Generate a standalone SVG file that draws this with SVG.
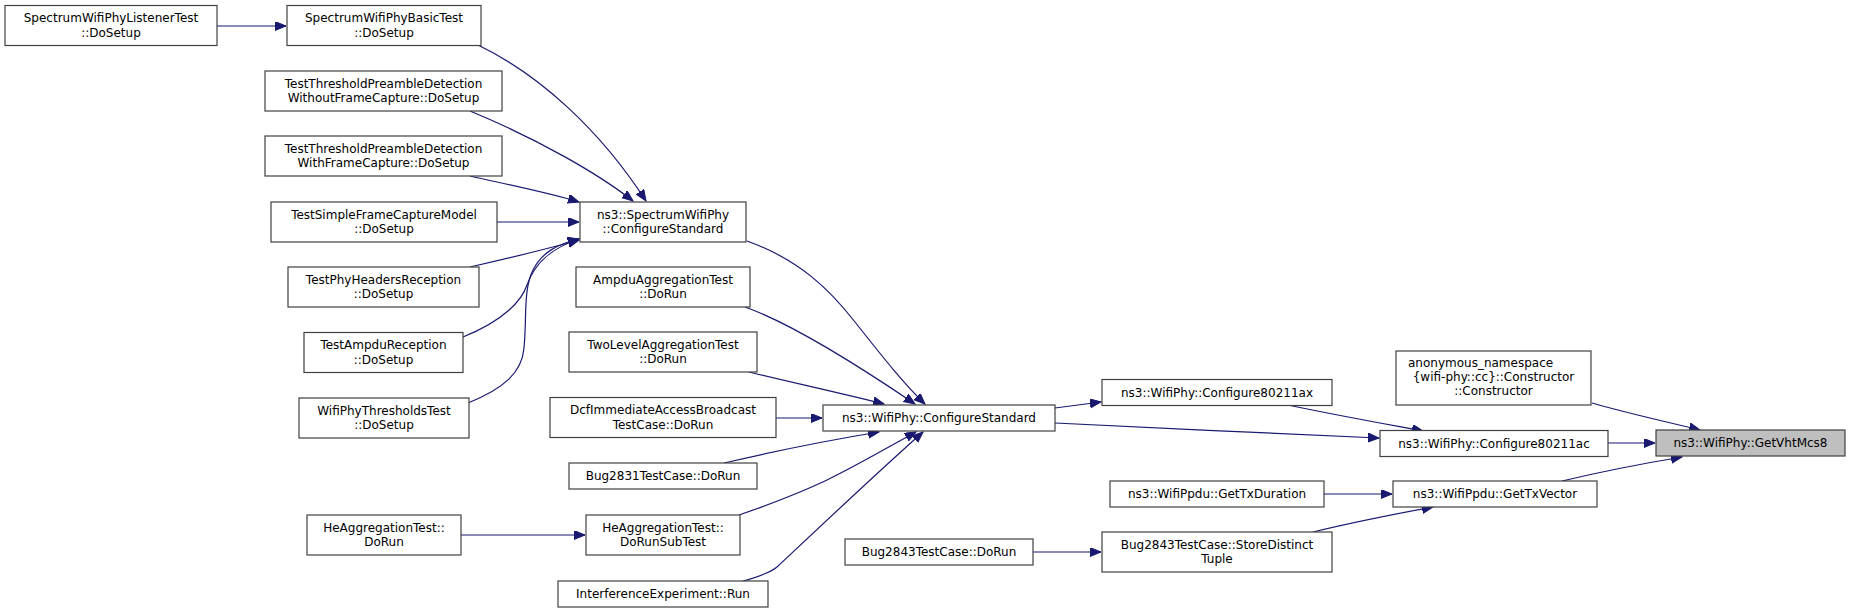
<svg xmlns="http://www.w3.org/2000/svg" width="1851" height="613" viewBox="0 0 1851 613">
<style>
.n rect{fill:#ffffff;stroke:#404040;stroke-width:1.2}
.h rect{fill:#bfbfbf}
text{font-family:"DejaVu Sans","Noto Sans",sans-serif;font-size:12px;fill:#000;text-anchor:middle}
.e path{fill:none;stroke:#191970;stroke-width:1.2}
</style>
<defs>
<marker id="a" markerUnits="userSpaceOnUse" markerWidth="12" markerHeight="10" refX="11" refY="4.5" orient="auto">
<path d="M0,0 L11,4.5 L0,9 z" fill="#191970" stroke="#191970" stroke-width="1"/>
</marker>
</defs>
<rect width="1851" height="613" fill="#ffffff"/>
<g class="e" marker-end="url(#a)">
<path d="M217,26 L286,26" marker-end="url(#a)"/>
<path d="M478,45 C540,75 600,130 646,201" marker-end="url(#a)"/>
<path d="M470,111 C540,140 600,175 633,201" marker-end="url(#a)"/>
<path d="M470,176 C510,185 550,193 579,202" marker-end="url(#a)"/>
<path d="M497,222 L579,222" marker-end="url(#a)"/>
<path d="M470,267 C510,258 550,248 579,240" marker-end="url(#a)"/>
<path d="M463,337 C505,320 522,300 527,285 C535,262 552,248 579,239" marker-end="url(#a)"/>
<path d="M468,403 C505,388 522,372 524,348 C527,318 523,290 533,270 C542,252 558,244 579,239" marker-end="url(#a)"/>
<path d="M747,241 C800,260 830,290 855,322 C885,360 905,385 925,404" marker-end="url(#a)"/>
<path d="M745,307 C790,323 850,360 915,404" marker-end="url(#a)"/>
<path d="M749,372 C790,382 840,393 884,404" marker-end="url(#a)"/>
<path d="M776,418 L822,418" marker-end="url(#a)"/>
<path d="M724,463 C780,450 830,440 879,432" marker-end="url(#a)"/>
<path d="M739,515 C765,506 795,495 825,481 C860,464 890,446 916,432" marker-end="url(#a)"/>
<path d="M743,581 C757,577 770,573 777,567 C825,522 880,470 923,432" marker-end="url(#a)"/>
<path d="M461,535 L585,535" marker-end="url(#a)"/>
<path d="M1055,408 C1070,406 1085,404 1101,402" marker-end="url(#a)"/>
<path d="M1055,423 C1150,428 1290,434 1379,438" marker-end="url(#a)"/>
<path d="M1288,405 C1330,414 1380,423 1423,431" marker-end="url(#a)"/>
<path d="M1592,403 C1630,414 1668,422 1700,430" marker-end="url(#a)"/>
<path d="M1608,443 L1655,443" marker-end="url(#a)"/>
<path d="M1562,481 C1600,472 1640,464 1682,457" marker-end="url(#a)"/>
<path d="M1324,494 L1392,494" marker-end="url(#a)"/>
<path d="M1313,532 C1350,523 1395,514 1433,507" marker-end="url(#a)"/>
<path d="M1033,552 L1101,552" marker-end="url(#a)"/>
</g>
<g id="n1" class="n"><rect x="5" y="5.5" width="212" height="40"/><text x="111" y="22">SpectrumWifiPhyListenerTest</text><text x="111" y="36.5">::DoSetup</text></g>
<g id="n2" class="n"><rect x="287" y="5.5" width="194" height="40"/><text x="384" y="22">SpectrumWifiPhyBasicTest</text><text x="384" y="36.5">::DoSetup</text></g>
<g id="n3" class="n"><rect x="265" y="71" width="237" height="40"/><text x="383.5" y="87.5">TestThresholdPreambleDetection</text><text x="383.5" y="102">WithoutFrameCapture::DoSetup</text></g>
<g id="n4" class="n"><rect x="265" y="136" width="237" height="40"/><text x="383.5" y="152.5">TestThresholdPreambleDetection</text><text x="383.5" y="167">WithFrameCapture::DoSetup</text></g>
<g id="n5" class="n"><rect x="271" y="202" width="226" height="40"/><text x="384" y="218.5">TestSimpleFrameCaptureModel</text><text x="384" y="233">::DoSetup</text></g>
<g id="n6" class="n"><rect x="288" y="267" width="191" height="40"/><text x="383.5" y="283.5">TestPhyHeadersReception</text><text x="383.5" y="298">::DoSetup</text></g>
<g id="n7" class="n"><rect x="304" y="332.5" width="159" height="40"/><text x="383.5" y="349">TestAmpduReception</text><text x="383.5" y="363.5">::DoSetup</text></g>
<g id="n8" class="n"><rect x="299" y="398" width="170" height="40"/><text x="384" y="414.5">WifiPhyThresholdsTest</text><text x="384" y="429">::DoSetup</text></g>
<g id="n9" class="n"><rect x="307" y="515" width="154" height="40"/><text x="384" y="531.5">HeAggregationTest::</text><text x="384" y="546">DoRun</text></g>
<g id="n10" class="n"><rect x="580" y="202" width="166" height="40"/><text x="663" y="218.5">ns3::SpectrumWifiPhy</text><text x="663" y="233">::ConfigureStandard</text></g>
<g id="n11" class="n"><rect x="576" y="267" width="174" height="40"/><text x="663" y="283.5">AmpduAggregationTest</text><text x="663" y="298">::DoRun</text></g>
<g id="n12" class="n"><rect x="569" y="332" width="188" height="40"/><text x="663" y="348.5">TwoLevelAggregationTest</text><text x="663" y="363">::DoRun</text></g>
<g id="n13" class="n"><rect x="550" y="397.5" width="226" height="40"/><text x="663" y="414">DcfImmediateAccessBroadcast</text><text x="663" y="428.5">TestCase::DoRun</text></g>
<g id="n14" class="n"><rect x="569" y="463" width="188" height="26"/><text x="663" y="480">Bug2831TestCase::DoRun</text></g>
<g id="n15" class="n"><rect x="586" y="515" width="154" height="40"/><text x="663" y="531.5">HeAggregationTest::</text><text x="663" y="546">DoRunSubTest</text></g>
<g id="n16" class="n"><rect x="558" y="581" width="210" height="26"/><text x="663" y="598">InterferenceExperiment::Run</text></g>
<g id="n17" class="n"><rect x="823" y="405" width="232" height="26"/><text x="939" y="422">ns3::WifiPhy::ConfigureStandard</text></g>
<g id="n18" class="n"><rect x="845" y="539" width="188" height="26"/><text x="939" y="556">Bug2843TestCase::DoRun</text></g>
<g id="n19" class="n"><rect x="1102" y="379.5" width="230" height="26"/><text x="1217" y="396.5">ns3::WifiPhy::Configure80211ax</text></g>
<g id="n20" class="n"><rect x="1380" y="430.5" width="228" height="26"/><text x="1494" y="447.5">ns3::WifiPhy::Configure80211ac</text></g>
<g id="n21" class="n"><rect x="1110" y="481" width="214" height="26"/><text x="1217" y="498">ns3::WifiPpdu::GetTxDuration</text></g>
<g id="n22" class="n"><rect x="1393" y="481" width="204" height="26"/><text x="1495" y="498">ns3::WifiPpdu::GetTxVector</text></g>
<g id="n23" class="n"><rect x="1102" y="532" width="230" height="40"/><text x="1217" y="548.5">Bug2843TestCase::StoreDistinct</text><text x="1217" y="563">Tuple</text></g>
<g id="n24" class="n"><rect x="1396" y="351" width="195" height="54"/><text x="1408" y="367" style="text-anchor:start">anonymous_namespace</text><text x="1493.5" y="381">{wifi-phy::cc}::Constructor</text><text x="1493.5" y="395">::Constructor</text></g>
<g id="n25" class="n h"><rect x="1656" y="430" width="189" height="26"/><text x="1750.5" y="447">ns3::WifiPhy::GetVhtMcs8</text></g>
</svg>
